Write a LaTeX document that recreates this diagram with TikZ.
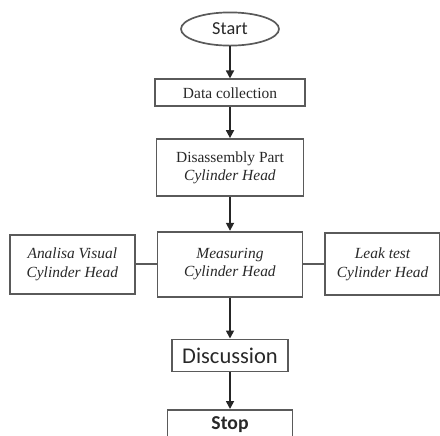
\documentclass[tikz,border=0pt]{standalone}
\usepackage{fontspec}
\setmainfont{Liberation Serif}
\newfontfamily\calibri{Carlito}
\usetikzlibrary{positioning,arrows.meta,shapes.geometric}
\definecolor{boxline}{RGB}{90,90,90}
\definecolor{txtgray}{RGB}{40,40,40}

\begin{document}
\begin{tikzpicture}[
    box/.style={
        draw=boxline,
        line width=1.2pt,
        align=center,
        text=txtgray,
        inner sep=1pt,
        font=\fontsize{11}{13}\selectfont
    },
    term/.style={
        draw=boxline,
        line width=1.2pt,
        ellipse,
        inner sep=0pt,
        text=txtgray,
        font=\calibri\fontsize{13}{15}\selectfont
    },
    arr/.style={
        -{Triangle[length=2mm,width=2mm]},
        line width=1.2pt,
        draw=black!85
    },
    link/.style={
        line width=1.2pt,
        draw=boxline
    }
]
\useasboundingbox (0,0) rectangle (11,-10.875);

\node[term, minimum width=2.45cm, minimum height=0.83cm] (start) at (5.75,-0.725) {Start};
\node[box, below=0.8cm of start, minimum width=3.75cm, minimum height=0.675cm] (collect) {Data collection};
\node[box, below=0.775cm of collect, minimum width=3.675cm, minimum height=1.425cm] (disassy) {Disassembly Part\\\textit{Cylinder Head}};
\node[box, below=0.85cm of disassy, minimum width=3.625cm, minimum height=1.625cm] (measure) {\textit{Measuring}\\\textit{Cylinder Head}};
\node[box, left=0.525cm of measure, minimum width=3.125cm, minimum height=1.475cm] (visual) {\textit{Analisa Visual}\\\textit{Cylinder Head}};
\node[box, right=0.525cm of measure, minimum width=2.875cm, minimum height=1.55cm] (leak) {\textit{Leak test}\\\textit{Cylinder Head}};
\node[box, below=1.025cm of measure, minimum width=2.9cm, minimum height=0.8cm, font=\calibri\fontsize{16}{18}\selectfont] (discuss) {Discussion};
\node[box, below=0.92cm of discuss, minimum width=3.125cm, minimum height=0.72cm, font=\calibri\bfseries\fontsize{14}{16}\selectfont] (stop) {Stop};

\draw[arr] (start) -- (collect);
\draw[arr] (collect) -- (disassy);
\draw[arr] (disassy) -- (measure);
\draw[link] (visual) -- (measure);
\draw[link] (measure) -- (leak);
\draw[arr] (measure) -- (discuss);
\draw[arr] (discuss) -- (stop);

\end{tikzpicture}
\end{document}
